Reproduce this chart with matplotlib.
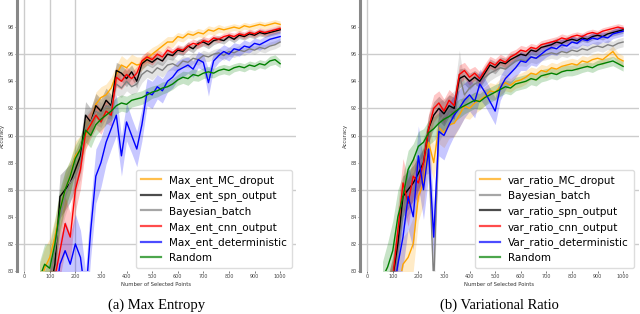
import numpy as np
import matplotlib
matplotlib.use("Agg")
import matplotlib.pyplot as plt

x_points = np.arange(60, 1001, 20)

# ---------- (a) Max Entropy ----------
a_mc = [79.0, 80.2, 81.0, 82.5, 84.5, 86.0, 87.0, 88.5, 89.0, 90.0, 91.0, 92.3, 92.8, 93.0, 93.5, 94.5,
        95.2, 95.0, 95.4, 95.2, 95.3, 95.7, 96.0, 96.3, 96.6, 96.9, 96.9, 97.3, 97.2, 97.5, 97.4, 97.6,
        97.5, 97.8, 97.7, 97.9, 97.8, 97.9, 98.0, 97.9, 98.1, 98.0, 98.1, 98.2, 98.1, 98.2, 98.3, 98.2]
a_spn = [78.0, 78.0, 78.5, 80.5, 85.5, 86.0, 86.5, 87.5, 88.5, 91.5, 91.0, 92.2, 91.8, 92.6, 92.2, 94.8,
         94.6, 94.2, 94.7, 94.0, 95.3, 95.6, 95.4, 95.7, 95.5, 96.0, 95.9, 96.3, 96.2, 96.6, 96.4, 96.8,
         96.9, 96.7, 97.0, 97.1, 97.0, 97.3, 97.1, 97.4, 97.3, 97.5, 97.4, 97.6, 97.5, 97.6, 97.7, 97.8]
a_bayes = [78.0, 78.5, 79.5, 81.5, 84.0, 85.5, 86.5, 87.0, 88.0, 90.5, 91.0, 91.8, 91.5, 92.2, 92.0, 93.8,
           93.5, 94.0, 93.6, 93.8, 94.5, 94.8, 94.6, 95.0, 94.8, 95.2, 95.3, 95.1, 95.5, 95.4, 95.7, 95.6,
           95.9, 95.8, 96.0, 96.1, 95.9, 96.2, 96.1, 96.3, 96.2, 96.4, 96.3, 96.5, 96.4, 96.6, 96.7, 96.9]
a_cnn = [78.0, 78.0, 78.5, 79.5, 81.5, 83.5, 82.5, 86.0, 87.5, 90.2, 90.8, 91.5, 91.0, 91.8, 91.5, 94.3,
         94.0, 94.5, 94.2, 94.6, 95.5, 95.8, 95.6, 96.0, 95.8, 96.3, 96.1, 96.4, 96.3, 96.6, 96.8, 96.7,
         97.0, 96.9, 97.2, 97.1, 97.3, 97.4, 97.3, 97.5, 97.4, 97.6, 97.5, 97.7, 97.6, 97.7, 97.8, 97.9]
a_det = [77.0, 77.0, 77.0, 78.0, 80.5, 81.5, 80.5, 82.0, 81.0, 78.0, 83.0, 87.0, 88.0, 89.5, 90.5, 91.5,
         88.5, 91.0, 90.0, 89.0, 90.8, 93.2, 93.0, 93.6, 93.3, 94.0, 94.3, 94.8, 95.0, 95.2, 94.9, 95.6,
         95.4, 93.9, 95.5, 95.9, 96.2, 96.0, 96.4, 96.3, 96.6, 96.5, 96.8, 96.7, 96.9, 97.1, 97.2, 97.3]
a_rand = [79.5, 80.5, 80.2, 82.0, 84.5, 86.0, 87.0, 88.3, 89.0, 90.4, 90.0, 90.8, 91.2, 91.5, 91.8, 92.2,
          92.4, 92.3, 92.6, 92.7, 92.8, 93.0, 93.2, 93.3, 93.5, 93.6, 93.8, 94.1, 94.3, 94.2, 94.5, 94.4,
          94.6, 94.7, 94.6, 94.8, 94.9, 94.8, 95.0, 95.1, 95.0, 95.2, 95.1, 95.3, 95.2, 95.5, 95.6, 95.3]

a_mc_sd = [1.5, 1.5, 1.4, 1.4, 1.3, 1.3, 1.2, 1.1, 1.0, 1.0, 0.9, 0.9, 0.8, 0.8, 0.8, 0.7,
           0.7, 0.6, 0.6, 0.6, 0.5, 0.5, 0.5, 0.4, 0.4, 0.4, 0.4, 0.3, 0.3, 0.3, 0.3, 0.3,
           0.3, 0.3, 0.3, 0.3, 0.25, 0.25, 0.25, 0.25, 0.25, 0.25, 0.25, 0.25, 0.25, 0.25, 0.25, 0.25]
a_spn_sd = [1.5, 1.5, 1.5, 1.6, 1.6, 1.5, 1.4, 1.3, 1.2, 1.0, 1.0, 0.9, 0.9, 0.9, 0.8, 0.6,
            0.6, 0.6, 0.5, 0.5, 0.4, 0.4, 0.4, 0.4, 0.35, 0.35, 0.35, 0.3, 0.3, 0.3, 0.3, 0.3,
            0.3, 0.3, 0.3, 0.25, 0.25, 0.25, 0.25, 0.25, 0.25, 0.25, 0.25, 0.25, 0.25, 0.25, 0.25, 0.25]
a_bayes_sd = [1.5, 1.5, 1.5, 1.5, 1.5, 1.4, 1.3, 1.3, 1.2, 1.1, 1.0, 1.0, 0.9, 0.9, 0.8, 0.8,
              0.7, 0.7, 0.6, 0.6, 0.6, 0.5, 0.5, 0.5, 0.5, 0.45, 0.45, 0.45, 0.4, 0.4, 0.4, 0.4,
              0.4, 0.35, 0.35, 0.35, 0.35, 0.35, 0.35, 0.35, 0.3, 0.3, 0.3, 0.3, 0.3, 0.3, 0.3, 0.3]
a_cnn_sd = [1.5, 1.5, 1.6, 1.8, 2.0, 2.0, 1.8, 1.6, 1.4, 1.2, 1.0, 1.0, 0.9, 0.9, 0.8, 0.7,
            0.6, 0.6, 0.5, 0.5, 0.4, 0.4, 0.4, 0.35, 0.35, 0.35, 0.3, 0.3, 0.3, 0.3, 0.3, 0.3,
            0.3, 0.3, 0.25, 0.25, 0.25, 0.25, 0.25, 0.25, 0.25, 0.25, 0.25, 0.25, 0.25, 0.25, 0.25, 0.25]
a_det_sd = [2.0, 2.0, 2.0, 2.0, 2.0, 2.2, 2.2, 2.2, 2.0, 2.0, 2.0, 2.0, 1.8, 1.6, 1.5, 1.5,
            1.5, 1.4, 1.3, 1.3, 1.2, 1.0, 1.0, 0.9, 0.9, 0.8, 0.8, 0.7, 0.7, 0.6, 0.6, 0.6,
            0.6, 1.0, 0.6, 0.5, 0.5, 0.5, 0.45, 0.45, 0.45, 0.4, 0.4, 0.4, 0.4, 0.4, 0.4, 0.4]
a_rand_sd = [1.2, 1.5, 1.8, 1.8, 1.6, 1.4, 1.2, 1.0, 1.0, 0.9, 0.9, 0.8, 0.8, 0.7, 0.7, 0.6,
             0.6, 0.6, 0.5, 0.5, 0.5, 0.5, 0.45, 0.45, 0.45, 0.4, 0.4, 0.4, 0.45, 0.5, 0.45, 0.4,
             0.4, 0.4, 0.35, 0.35, 0.35, 0.35, 0.3, 0.3, 0.3, 0.3, 0.3, 0.3, 0.3, 0.35, 0.35, 0.3]

# ---------- (b) Variational Ratio ----------
b_mc = [77.0, 77.0, 77.5, 78.5, 80.5, 81.0, 82.0, 85.5, 86.5, 89.5, 88.0, 90.6, 90.2, 90.8, 90.9, 91.5,
        92.2, 92.0, 92.4, 92.6, 92.9, 93.3, 93.2, 93.6, 93.9, 93.7, 94.0, 94.1, 94.3, 94.6, 94.5, 94.8,
        94.7, 95.0, 94.9, 95.1, 95.2, 95.3, 95.2, 95.5, 95.4, 95.6, 95.7, 95.6, 95.9, 96.2, 95.7, 95.5]
b_bayes = [77.0, 78.0, 79.0, 81.5, 84.5, 85.5, 86.0, 87.0, 88.5, 89.0, 79.0, 91.0, 91.5, 92.0, 92.3, 94.5,
           93.0, 93.5, 93.8, 94.0, 94.3, 94.6, 94.8, 95.0, 94.9, 95.2, 95.5, 95.6, 95.5, 95.8, 95.7, 95.9,
           96.0, 96.1, 96.0, 96.2, 96.1, 96.3, 96.2, 96.4, 96.3, 96.5, 96.6, 96.5, 96.7, 96.6, 96.8, 96.9]
b_spn = [77.0, 78.0, 79.5, 82.0, 85.5, 86.0, 86.5, 87.2, 88.0, 90.5, 91.5, 92.0, 91.6, 92.2, 92.0, 94.2,
         94.4, 94.0, 94.3, 94.0, 94.6, 95.2, 95.0, 95.4, 95.3, 95.6, 95.8, 96.0, 95.9, 96.3, 96.2, 96.5,
         96.6, 96.7, 96.9, 96.8, 97.0, 97.1, 97.0, 97.2, 97.1, 97.3, 97.4, 97.3, 97.5, 97.6, 97.7, 97.8]
b_cnn = [77.0, 78.0, 79.5, 83.0, 86.5, 85.0, 87.0, 86.5, 88.0, 90.5, 92.0, 92.4, 91.8, 92.6, 92.2, 94.5,
         94.8, 94.3, 94.6, 94.2, 94.8, 95.4, 95.2, 95.6, 95.4, 95.8, 96.0, 96.3, 96.2, 96.5, 96.4, 96.7,
         96.8, 96.9, 97.0, 97.2, 97.1, 97.3, 97.4, 97.3, 97.5, 97.6, 97.5, 97.7, 97.8, 97.9, 98.0, 97.9]
b_det = [77.0, 77.0, 78.0, 80.5, 82.5, 85.5, 84.0, 88.5, 86.0, 89.0, 82.5, 90.3, 90.0, 90.8, 91.5, 92.0,
         92.6, 93.0, 92.5, 93.8, 93.2, 92.5, 91.8, 93.5, 94.2, 94.6, 95.0, 95.5, 95.4, 95.8, 95.7, 96.0,
         96.3, 96.5, 96.4, 96.7, 96.6, 96.9, 96.8, 97.1, 97.0, 97.2, 97.1, 97.3, 97.2, 97.5, 97.6, 97.7]
b_rand = [79.5, 80.3, 81.5, 84.0, 85.5, 87.5, 88.2, 89.2, 89.5, 90.2, 90.5, 90.9, 91.2, 91.4, 91.7, 92.0,
          92.2, 92.4, 92.6, 92.5, 92.8, 93.0, 93.2, 93.4, 93.6, 93.5, 93.8, 93.9, 94.0, 94.2, 94.1, 94.4,
          94.5, 94.6, 94.5, 94.7, 94.8, 94.8, 94.9, 95.0, 95.1, 95.0, 95.2, 95.3, 95.4, 95.5, 95.3, 95.1]

b_mc_sd = [1.5, 1.5, 1.6, 1.8, 2.0, 2.0, 2.0, 1.8, 1.6, 1.4, 1.3, 1.2, 1.1, 1.0, 1.0, 0.9,
           0.9, 0.8, 0.8, 0.7, 0.7, 0.6, 0.6, 0.6, 0.6, 0.5, 0.5, 0.5, 0.5, 0.45, 0.45, 0.45,
           0.45, 0.4, 0.4, 0.4, 0.4, 0.4, 0.4, 0.4, 0.4, 0.4, 0.4, 0.4, 0.4, 0.4, 0.4, 0.4]
b_bayes_sd = [1.5, 1.5, 1.5, 1.5, 1.4, 1.4, 1.3, 1.3, 1.4, 1.8, 2.0, 1.5, 1.2, 1.0, 1.0, 1.8,
              0.8, 0.7, 0.7, 0.6, 0.6, 0.55, 0.5, 0.5, 0.5, 0.45, 0.45, 0.45, 0.4, 0.4, 0.4, 0.4,
              0.4, 0.4, 0.4, 0.35, 0.35, 0.35, 0.35, 0.35, 0.35, 0.35, 0.35, 0.35, 0.35, 0.35, 0.35, 0.35]
b_spn_sd = [1.5, 1.5, 1.5, 1.6, 1.5, 1.4, 1.3, 1.2, 1.1, 1.0, 1.0, 0.9, 0.9, 0.8, 0.8, 0.7,
            0.6, 0.6, 0.5, 0.5, 0.5, 0.45, 0.45, 0.4, 0.4, 0.4, 0.35, 0.35, 0.35, 0.3, 0.3, 0.3,
            0.3, 0.3, 0.3, 0.3, 0.3, 0.25, 0.25, 0.25, 0.25, 0.25, 0.25, 0.25, 0.25, 0.25, 0.25, 0.25]
b_cnn_sd = [1.5, 1.5, 1.6, 1.8, 1.8, 1.7, 1.5, 1.4, 1.2, 1.1, 1.0, 0.9, 0.9, 0.8, 0.8, 0.7,
            0.6, 0.6, 0.5, 0.5, 0.5, 0.45, 0.45, 0.4, 0.4, 0.4, 0.35, 0.35, 0.35, 0.3, 0.3, 0.3,
            0.3, 0.3, 0.3, 0.3, 0.3, 0.25, 0.25, 0.25, 0.25, 0.25, 0.25, 0.25, 0.25, 0.25, 0.25, 0.25]
b_det_sd = [2.0, 2.0, 2.0, 2.0, 2.2, 2.4, 2.4, 2.2, 2.2, 2.0, 2.0, 1.8, 1.8, 1.6, 1.5, 1.4,
            1.3, 1.2, 1.2, 1.1, 1.0, 1.0, 1.0, 0.9, 0.8, 0.8, 0.7, 0.7, 0.6, 0.6, 0.6, 0.5,
            0.5, 0.5, 0.5, 0.45, 0.45, 0.45, 0.4, 0.4, 0.4, 0.4, 0.4, 0.4, 0.35, 0.35, 0.35, 0.35]
b_rand_sd = [1.2, 1.8, 2.2, 2.0, 1.6, 1.4, 1.2, 1.1, 1.0, 0.9, 0.9, 0.8, 0.8, 0.7, 0.7, 0.7,
             0.6, 0.6, 0.6, 0.6, 0.6, 0.55, 0.55, 0.5, 0.5, 0.5, 0.5, 0.5, 0.5, 0.45, 0.45, 0.45,
             0.45, 0.4, 0.4, 0.4, 0.4, 0.4, 0.4, 0.35, 0.35, 0.35, 0.35, 0.35, 0.35, 0.35, 0.35, 0.35]

labels_a = ["Max_ent_MC_droput", "Max_ent_spn_output", "Bayesian_batch",
            "Max_ent_cnn_output", "Max_ent_deterministic", "Random"]
labels_b = ["var_ratio_MC_droput", "Bayesian_batch", "var_ratio_spn_output",
            "var_ratio_cnn_output", "Var_ratio_deterministic", "Random"]
colors_a = ["orange", "black", "gray", "red", "blue", "green"]
colors_b = ["orange", "gray", "black", "red", "blue", "green"]
series_a = [a_mc, a_spn, a_bayes, a_cnn, a_det, a_rand]
series_b = [b_mc, b_bayes, b_spn, b_cnn, b_det, b_rand]
sd_a = [a_mc_sd, a_spn_sd, a_bayes_sd, a_cnn_sd, a_det_sd, a_rand_sd]
sd_b = [b_mc_sd, b_bayes_sd, b_spn_sd, b_cnn_sd, b_det_sd, b_rand_sd]

y_ticks = [80, 82, 84, 86, 88, 90, 92, 94, 96, 98]
x_ticks = [0, 100, 200, 300, 400, 500, 600, 700, 800, 900, 1000]
h_grid = [82, 86, 90, 92, 96]
captions = ["(a) Max Entropy", "(b) Variational Ratio"]

fig = plt.figure(figsize=(6.4, 3.14), dpi=100)
ax_a = fig.add_axes([17/640, 1-271/314, 279/640, 271/314])
ax_b = fig.add_axes([360/640, 1-271/314, 279/640, 271/314])

def draw(ax, series, sds, labels, colors, v_grid, legend_x, caption):
    for yv in h_grid:
        ax.axhline(yv, color="#cccccc", lw=1.0, zorder=0)
    for xv in v_grid:
        ax.axvline(xv, color="#cccccc", lw=1.0, zorder=0)
    for ys, sd, lab, col in zip(series, sds, labels, colors):
        ys = np.array(ys)
        sd = np.array(sd)
        ax.fill_between(x_points, ys - sd, ys + sd, color=col, alpha=0.22, lw=0)
        ax.plot(x_points, ys, color=col, lw=1.0, label=lab)
    ax.set_xlim(-28, 1062)
    ax.set_ylim(80, 100)
    ax.set_yticks(y_ticks)
    ax.set_xticks(x_ticks)
    ax.tick_params(labelsize=3.5, length=1.5, width=0.5, colors="#444444", pad=1)
    for s in ["top", "right", "bottom"]:
        ax.spines[s].set_visible(False)
    ax.spines["left"].set_color("#888888")
    ax.spines["left"].set_linewidth(2.2)
    ax.set_xlabel("Number of Selected Points", fontsize=3.8, labelpad=1.5, color="#333333")
    ax.set_ylabel("Accuracy", fontsize=3.8, labelpad=2, color="#333333")
    leg = ax.legend(loc="lower right", bbox_to_anchor=(legend_x, 0.011), borderaxespad=0,
                    fontsize=7.5, handlelength=1.9, handletextpad=0.8, labelspacing=0.45,
                    borderpad=0.5, frameon=True, fancybox=True, edgecolor="#dddddd",
                    framealpha=1.0)
    for ln in leg.get_lines():
        ln.set_linewidth(1.6)
        ln.set_alpha(0.7)
    ax.text(0.5, -0.125, caption, transform=ax.transAxes, ha="center", va="center",
            fontsize=10.5, family="Liberation Serif")

draw(ax_a, series_a, sd_a, labels_a, colors_a, [0, 100, 200], 0.986, captions[0])
draw(ax_b, series_b, sd_b, labels_b, colors_b, [0], 0.982, captions[1])

fig.savefig("out.png", dpi=100)
